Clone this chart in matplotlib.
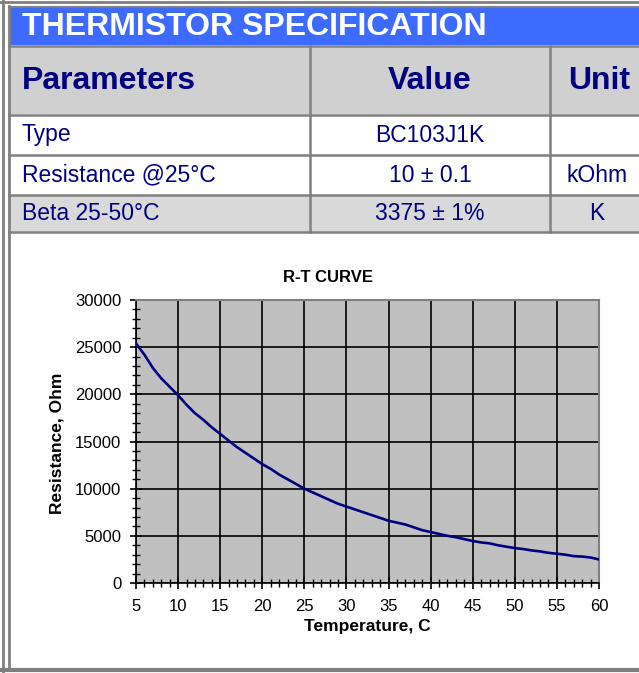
import matplotlib
matplotlib.use("Agg")
import matplotlib.pyplot as plt
from matplotlib.patches import Rectangle
from matplotlib.ticker import MultipleLocator

plt.rcParams['font.family'] = ['Liberation Sans', 'DejaVu Sans']

# ---- data ----
title_text = "THERMISTOR SPECIFICATION"
header = ["Parameters", "Value", "Unit"]
param_names = ["Type", "Resistance @25°C", "Beta 25-50°C"]
param_values = ["BC103J1K", "10 ± 0.1", "3375 ± 1%"]
param_units = ["", "kOhm", "K"]

temperature_c = [5, 6, 7, 8, 9, 10, 11, 12, 13, 14, 15, 16, 17, 18, 19, 20,
                 21, 22, 23, 24, 25, 26, 27, 28, 29, 30, 31, 32, 33, 34, 35,
                 36, 37, 38, 39, 40, 41, 42, 43, 44, 45, 46, 47, 48, 49, 50,
                 51, 52, 53, 54, 55, 56, 57, 58, 59, 60]
resistance_ohm = [25400, 24200, 22800, 21700, 20800, 19900, 18900, 18000,
                  17300, 16500, 15800, 15100, 14400, 13800, 13200, 12600,
                  12100, 11500, 11000, 10500, 10000, 9600, 9200, 8800, 8400,
                  8100, 7800, 7500, 7200, 6900, 6600, 6400, 6200, 5900, 5600,
                  5400, 5200, 5000, 4850, 4650, 4450, 4300, 4200, 4000, 3850,
                  3700, 3600, 3450, 3350, 3200, 3100, 3000, 2850, 2800, 2700,
                  2500]

W, H = 639, 673
fig = plt.figure(figsize=(W / 100, H / 100), dpi=100)
fig.patch.set_facecolor("white")

def fx(x):
    return x / W

def fy(y):
    return 1 - y / H

def rect(x0, y0, x1, y1, fc, ec="none", lw=0):
    r = Rectangle((fx(x0), fy(y1)), fx(x1) - fx(x0), fy(y0) - fy(y1),
                  transform=fig.transFigure, facecolor=fc, edgecolor=ec,
                  linewidth=lw, zorder=0)
    fig.add_artist(r)

def hline(y, x0, x1, color="#808080", lw=1.6):
    fig.add_artist(plt.Line2D([fx(x0), fx(x1)], [fy(y), fy(y)],
                              transform=fig.transFigure, color=color, lw=lw))

def vline(x, y0, y1, color="#808080", lw=1.6):
    fig.add_artist(plt.Line2D([fx(x), fx(x)], [fy(y0), fy(y1)],
                              transform=fig.transFigure, color=color, lw=lw))

navy = "#000080"
grey = "#808080"

# outer frame
vline(2.5, 0, H, lw=2)
vline(9, 6, 670, lw=2)
hline(2, 0, W, lw=2)
hline(7, 9, W, lw=1.5)
hline(670, 0, W, lw=3)

# title bar
rect(10, 8, W, 45, "#3D6BFF")
fig.text(fx(22), fy(27), title_text, color="white", fontsize=23,
         fontweight="bold", ha="left", va="center")

# header row
rect(10, 47, W, 114, "#D0D0D0")
# rows
rect(10, 115, W, 154, "white")
rect(10, 155, W, 194, "white")
rect(10, 195, W, 232, "#D9D9D9")

for y in [46, 114.5, 154.5, 194.5, 232]:
    hline(y, 9, W, lw=1.8)
for x in [310, 550]:
    vline(x, 46, 232, lw=1.8)

header_y = fy(81)
fig.text(fx(22), header_y, header[0], color=navy, fontsize=23,
         fontweight="bold", ha="left", va="center")
fig.text(fx(430), header_y, header[1], color=navy, fontsize=23,
         fontweight="bold", ha="center", va="center")
fig.text(fx(599), header_y, header[2], color=navy, fontsize=23,
         fontweight="bold", ha="center", va="center")

row_ys = [135, 175, 213]
for name, val, unit, ry in zip(param_names, param_values, param_units, row_ys):
    fig.text(fx(22), fy(ry), name, color=navy, fontsize=16.5,
             ha="left", va="center")
    fig.text(fx(430), fy(ry), val, color=navy, fontsize=16.5,
             ha="center", va="center")
    if unit:
        fig.text(fx(597), fy(ry), unit, color=navy, fontsize=16.5,
                 ha="center", va="center")

# ---- chart ----
ax_l, ax_r, ax_t, ax_b = 136, 599, 300, 583
ax = fig.add_axes([fx(ax_l), fy(ax_b), fx(ax_r) - fx(ax_l), fy(ax_t) - fy(ax_b)])
ax.set_facecolor("#C0C0C0")
ax.plot(temperature_c, resistance_ohm, color=navy, lw=1.9, zorder=3)
ax.set_xlim(5, 60)
ax.set_ylim(0, 30000)
ax.xaxis.set_major_locator(MultipleLocator(5))
ax.xaxis.set_minor_locator(MultipleLocator(1))
ax.yaxis.set_major_locator(MultipleLocator(5000))
ax.yaxis.set_minor_locator(MultipleLocator(1000))
ax.grid(True, which="major", color="black", lw=1.2, zorder=1)
ax.set_axisbelow(True)
for s in ["left", "bottom"]:
    ax.spines[s].set_color("black")
    ax.spines[s].set_linewidth(1.2)
for s in ["top", "right"]:
    ax.spines[s].set_color(grey)
    ax.spines[s].set_linewidth(1.5)
ax.tick_params(which="major", direction="inout", length=9, width=1.2,
               color="black", labelsize=12, labelcolor="black")
ax.tick_params(which="minor", direction="inout", length=6, width=1.0,
               color="black")
ax.tick_params(axis="y", which="major", pad=6)
ax.tick_params(axis="x", which="major", pad=7)

fig.text(fx(328), fy(278), "R-T CURVE", fontsize=12, fontweight="bold",
         ha="center", va="center")
fig.text(fx(57), fy(443), "Resistance, Ohm", fontsize=12.5, fontweight="bold",
         ha="center", va="center", rotation=90)
fig.text(fx(367), fy(626), "Temperature, C", fontsize=12.5, fontweight="bold",
         ha="center", va="center")

fig.savefig("out.png", dpi=100)
